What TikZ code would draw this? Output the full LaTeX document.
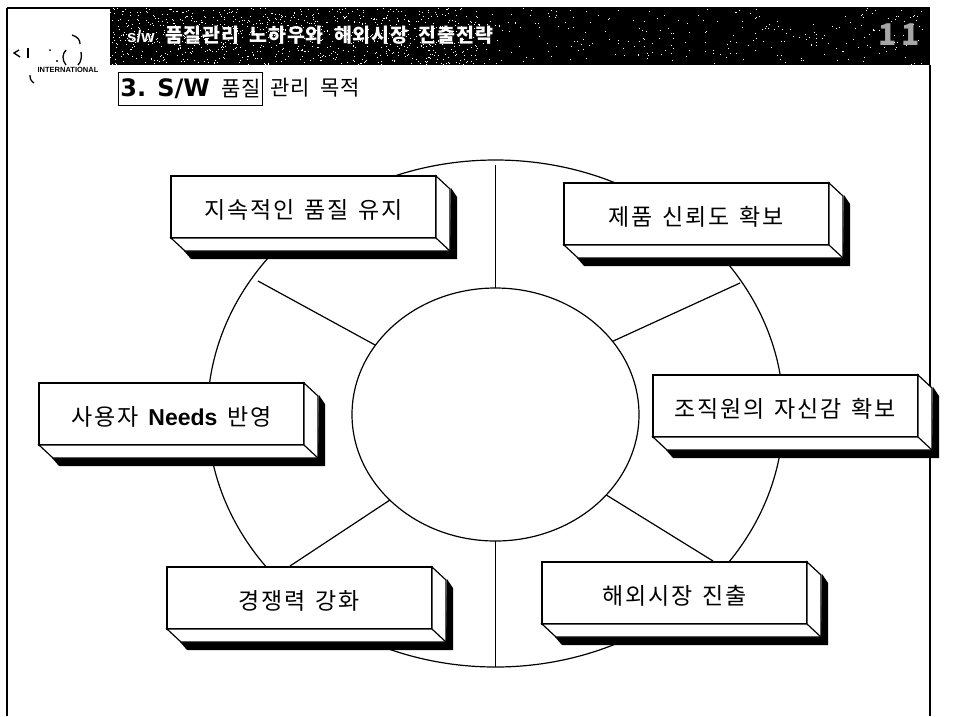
\documentclass[tikz,border=0pt]{standalone}
\usepackage{fontspec}
\usetikzlibrary{calc,shapes.geometric}
\setmainfont{Noto Sans CJK KR}[LetterSpace=4,WordSpace=2]
\newfontfamily\slabfont{Noto Sans CJK KR}[LetterSpace=8,WordSpace=1.4]
\newfontfamily\latfont{Liberation Sans}
\newfontfamily\headfont{DejaVu Sans}
\tikzset{
  slab/.style={draw,fill=white,line width=1.2pt,anchor=north west,inner sep=0pt,outer sep=0pt,
    minimum width=265,minimum height=62,font=\fontsize{23}{27}\slabfont},
  ring/.style={draw,ellipse,line width=1.2pt,inner sep=0pt,outer sep=0pt},
  spoke/.style={line width=1.2pt},
  logoline/.style={line width=1.3pt}
}
\begin{document}
\begin{tikzpicture}[x=1pt,y=-1pt]
   \useasboundingbox (0,0) rectangle (961,716);
   % frame and title band
   \coordinate (frametl) at (7,8);
   \coordinate (framebl) at (7,716);
   \coordinate (frametr) at (110,8);
   \coordinate (framebr) at (930,716);
   \coordinate (bandbr) at (930,65);
   \draw[line width=2.5pt] (framebl) -- (frametl);
   \draw[line width=1.5pt] (frametl) -- (frametr);
   \draw[line width=2pt] (bandbr) -- (framebr);
   \fill[black] (110,7) rectangle (bandbr);
   \pgfmathsetseed{11}
   \foreach \i in {1,...,900} {
      \pgfmathsetmacro{\px}{110+370*rnd}
      \pgfmathsetmacro{\py}{8+56*rnd}
      \fill[white] (\px,\py) rectangle +(1,1);
   }
   \foreach \i in {1,...,260} {
      \pgfmathsetmacro{\px}{480+445*rnd}
      \pgfmathsetmacro{\py}{8+56*rnd}
      \fill[white] (\px,\py) rectangle +(1,1);
   }
   \node[white,font=\fontsize{19.5}{23}\selectfont\bfseries,anchor=west,inner sep=0pt] (bandtext) at (127,35) {{\fontsize{17}{20}\latfont\bfseries s/w} 품질관리 노하우와 해외시장 진출전략};
   \node[gray!70,font=\fontsize{30}{32}\selectfont\bfseries,inner sep=0pt] (pagenum) at (899,35) {1\,1};
   % logo
   \node[font=\fontsize{7.5}{8}\latfont\bfseries,inner sep=0pt] (logotext) at (68,70) {INTERNATIONAL};
   \draw[logoline] (72,35) .. controls (78,37) and (80,40) .. (80,44);
   \draw[logoline] (19,50) -- (14,53) -- (20,57);
   \draw[logoline] (28,48) -- (28,58);
   \draw[logoline] (66,50) .. controls (62,54) and (62,60) .. (66,65);
   \draw[logoline] (81,52) .. controls (82,57) and (81,62) .. (78,65);
   \draw[logoline] (30,75) .. controls (30,79) and (31,81) .. (34,83);
   \fill (50,50) circle (1);
   \fill (57,61) circle (1.2);
   % heading
   \node[draw,line width=1pt,anchor=north west,inner sep=0pt,minimum width=144,minimum height=33,
     font=\fontsize{21}{24}\selectfont] (headbox) at (118,72) {{\fontsize{24}{28}\headfont\bfseries 3. S/W} 품질};
   \node[anchor=west,inner sep=0pt,font=\fontsize{21}{24}\selectfont] (headrest) at (270,88) {관리 목적};
   % wheel
   \node[ring,minimum width=576,minimum height=507] (outer) at (495.5,413.5) {};
   \node[ring,minimum width=287,minimum height=253] (inner) at (495.5,414.5) {};
   \coordinate (s1) at (495.5,165);
   \coordinate (s2) at (740,283);
   \coordinate (s3) at (713,561);
   \coordinate (s4) at (495.5,667);
   \coordinate (s5) at (290,566);
   \coordinate (s6) at (258,281);
   \draw[spoke] (inner.90) -- (s1);
   \draw[spoke] (inner.32.6) -- (s2);
   \draw[spoke] (inner.-36.9) -- (s3);
   \draw[spoke] (inner.270) -- (s4);
   \draw[spoke] (inner.219) -- (s5);
   \draw[spoke] (inner.150.2) -- (s6);
   % goal boxes
   \foreach \nm/\x/\y/\txt in {
      keep/171/176/{지속적인 품질 유지},
      trust/564/183/{제품 신뢰도 확보},
      staff/653/375/{조직원의 자신감 확보},
      needs/39/383/{사용자 {\latfont\bfseries Needs} 반영},
      power/167/567/{경쟁력 강화},
      market/542/562/{해외시장 진출}} {
      \node[slab] (\nm) at (\x,\y) {\raisebox{-11pt}[0pt][0pt]{\txt}};
      \fill[black] ($(\nm.north east)+(15,12)$) -- ($(\nm.north east)+(21,21)$)
         -- ($(\nm.south east)+(21,21)$) -- ($(\nm.south west)+(20,21)$)
         -- ($(\nm.south west)+(13,13)$) -- ($(\nm.south east)+(14,13)$) -- cycle;
      \draw[fill=white,line width=1.2pt] (\nm.north east) -- ($(\nm.north east)+(14,13)$)
         -- ($(\nm.south east)+(14,13)$) -- ($(\nm.south west)+(14,13)$)
         -- (\nm.south west) -- (\nm.south east) -- cycle;
      \draw[line width=1.2pt] (\nm.south east) -- ($(\nm.south east)+(14,13)$);
   }
\end{tikzpicture}
\end{document}
